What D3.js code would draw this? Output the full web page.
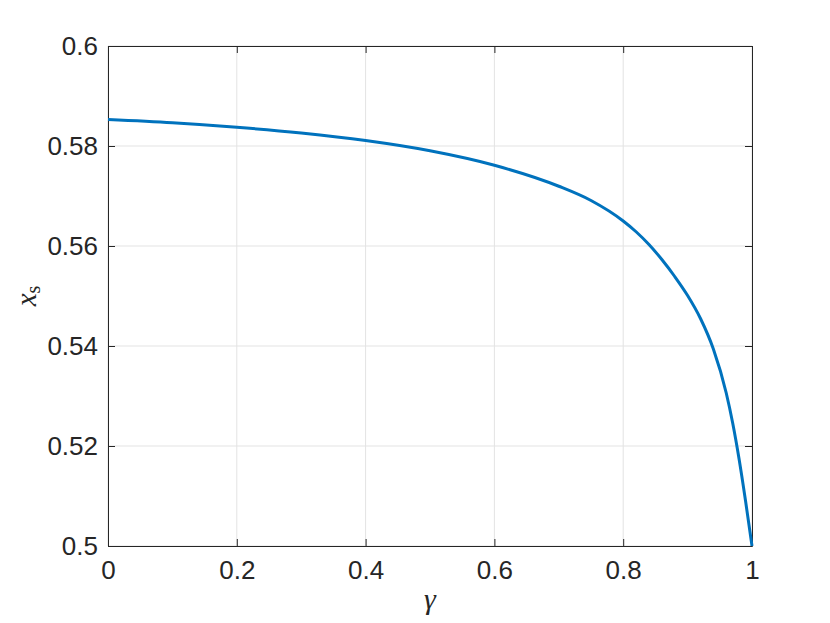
<!DOCTYPE html>
<html>
<head>
<meta charset="utf-8">
<script src="https://cdn.jsdelivr.net/npm/d3@7"></script>
<style>
  html, body { margin: 0; padding: 0; background: #fff; }
  svg { display: block; }
</style>
</head>
<body>
<svg id="chart" width="830" height="623"></svg>
<script>
// ---- data ----
const gammaValues = [0, 0.1, 0.2, 0.3, 0.4, 0.5, 0.6, 0.7, 0.75, 0.8, 0.82, 0.84, 0.86, 0.88, 0.9, 0.92, 0.94, 0.96, 0.97, 0.98, 0.99, 1.0];
const xsValues    = [0.5853, 0.58465, 0.58375, 0.5826, 0.5811, 0.57905, 0.57615, 0.57195, 0.5691, 0.5650, 0.56285, 0.5603, 0.5573, 0.5539, 0.5501, 0.5455, 0.5394, 0.5306, 0.5246, 0.51735, 0.5090, 0.5000];
const xTicks = [0, 0.2, 0.4, 0.6, 0.8, 1];
const xTickLabels = ["0", "0.2", "0.4", "0.6", "0.8", "1"];
const yTicks = [0.5, 0.52, 0.54, 0.56, 0.58, 0.6];
const yTickLabels = ["0.5", "0.52", "0.54", "0.56", "0.58", "0.6"];

const mLeft = 108, mRight = 752, mTop = 46, mBottom = 546;
const svg = d3.select("#chart");
const x = d3.scaleLinear().domain([0, 1]).range([mLeft, mRight]);
const y = d3.scaleLinear().domain([0.5, 0.6]).range([mBottom, mTop]);
const axisColor = "#262626";
const font = "'Liberation Sans', Arial, Helvetica, sans-serif";

// grid
const grid = svg.append("g");
grid.selectAll("line.gx").data(xTicks).join("line")
  .attr("x1", d => x(d)).attr("x2", d => x(d))
  .attr("y1", mTop).attr("y2", mBottom)
  .attr("stroke", "#e3e3e3").attr("stroke-width", 1);
grid.selectAll("line.gy").data(yTicks).join("line")
  .attr("y1", d => y(d)).attr("y2", d => y(d))
  .attr("x1", mLeft).attr("x2", mRight)
  .attr("stroke", "#e3e3e3").attr("stroke-width", 1);

// axes (inward ticks) via d3 axes
const tickLen = 7;
const xAxisB = d3.axisBottom(x).tickValues(xTicks).tickFormat((d, i) => xTickLabels[i]).tickSizeInner(-tickLen).tickSizeOuter(0).tickPadding(15);
const yAxisL = d3.axisLeft(y).tickValues(yTicks).tickFormat((d, i) => yTickLabels[i]).tickSizeInner(-tickLen).tickSizeOuter(0).tickPadding(10);
const xAxisT = d3.axisTop(x).tickValues(xTicks).tickFormat("").tickSizeInner(-tickLen).tickSizeOuter(0);
const yAxisR = d3.axisRight(y).tickValues(yTicks).tickFormat("").tickSizeInner(-tickLen).tickSizeOuter(0);

function style(g) {
  g.selectAll("path.domain").attr("stroke", axisColor).attr("stroke-width", 1);
  g.selectAll(".tick line").attr("stroke", axisColor).attr("stroke-width", 1);
  g.selectAll(".tick text").attr("fill", axisColor).style("font-family", font).style("font-size", "26px");
}
svg.append("g").attr("transform", `translate(0,${mBottom})`).call(xAxisB).call(style);
svg.append("g").attr("transform", `translate(${mLeft},0)`).call(yAxisL).call(style);
svg.append("g").attr("transform", `translate(0,${mTop})`).call(xAxisT).call(style);
svg.append("g").attr("transform", `translate(${mRight},0)`).call(yAxisR).call(style);

// line
const pts = gammaValues.map((g, i) => [g, xsValues[i]]);
svg.append("path")
  .datum(pts)
  .attr("fill", "none")
  .attr("stroke", "#0072BD")
  .attr("stroke-width", 3)
  .attr("stroke-linejoin", "round")
  .attr("d", d3.line().x(d => x(d[0])).y(d => y(d[1])).curve(d3.curveMonotoneX));

// axis labels
svg.append("text")
  .attr("x", (mLeft + mRight) / 2).attr("y", 609)
  .attr("text-anchor", "middle")
  .style("font-family", "'Liberation Serif', 'DejaVu Serif', serif")
  .style("font-style", "italic")
  .style("font-size", "30px")
  .attr("fill", axisColor)
  .text("γ");

const yl = svg.append("text")
  .attr("transform", `translate(36,${(mTop + mBottom) / 2}) rotate(-90)`)
  .attr("text-anchor", "middle")
  .style("font-family", "'Liberation Serif', 'DejaVu Serif', serif")
  .style("font-size", "29px")
  .attr("fill", axisColor);
yl.append("tspan").style("font-style", "italic").text("x");
yl.append("tspan").attr("dy", 4).style("font-size", "20px").text("s");
</script>
</body>
</html>
